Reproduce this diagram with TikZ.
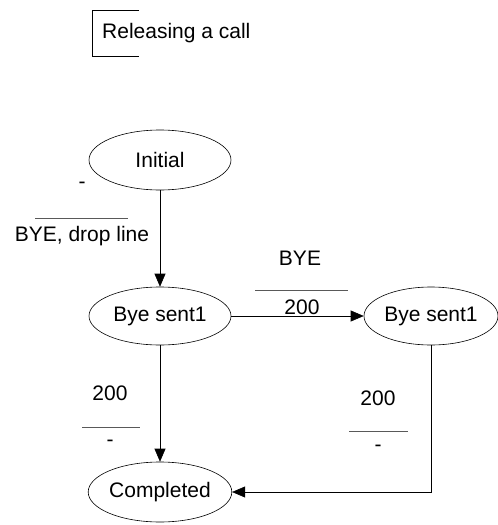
\documentclass[tikz,border=0pt]{standalone}
\usepackage{fontspec}
\setmainfont{Liberation Sans}
\usetikzlibrary{arrows.meta,shapes.geometric}
\begin{document}
\begin{tikzpicture}[x=1pt,y=-1pt,
  state/.style={draw,ellipse,line width=0.6pt,minimum width=142pt,minimum height=60pt,inner sep=0pt},
  link/.style={line width=0.6pt,-{Triangle[length=13pt,width=11pt]}},
  bar/.style={line width=0.7pt,draw=black!65},
  txt/.style={inner sep=0pt,anchor=center},
  font=\fontsize{21}{24}\selectfont]
\useasboundingbox (0,0) rectangle (498,525);

% title bracket
\coordinate (t1) at (139,10);
\coordinate (t2) at (92,10);
\coordinate (t3) at (92,56);
\coordinate (t4) at (139,56);
\draw[line width=0.6pt] (t1) -- (t2) -- (t3) -- (t4);
\node[txt,anchor=west] (title) at (102,33) {Releasing a call};

% states
\node[state] (init) at (160,160) {Initial};
\node[state,minimum height=58pt] (bye1) at (160,316) {Bye sent1};
\node[state,minimum width=134pt,minimum height=58pt] (bye2) at (431,316) {Bye sent1};
\node[state] (done) at (160,492) {Completed};

% transitions
\draw[link] (init) -- (bye1);
\draw[link] (bye1) -- (bye2);
\draw[link] (bye1) -- (done);
\coordinate (corner) at (bye2.south |- done.east);
\draw[link] (bye2.south) -- (corner) -- (done.east);

% labels: Initial -> Bye sent1
\node[txt] (l1a) at (82,185) {-};
\coordinate (b1a) at (35,218);
\coordinate (b1b) at (128,218);
\draw[bar] (b1a) -- (b1b);
\node[txt] (l1b) at (82,236) {BYE, drop line};

% labels: Bye sent1 -> Bye sent1
\node[txt] (l2a) at (300,258) {BYE};
\coordinate (b2a) at (255,290);
\coordinate (b2b) at (348,290);
\draw[bar] (b2a) -- (b2b);
\node[txt] (l2b) at (302,307) {200};

% labels: Bye sent1 -> Completed
\node[txt] (l3a) at (110,393) {200};
\coordinate (b3a) at (82,427);
\coordinate (b3b) at (140,427);
\draw[bar] (b3a) -- (b3b);
\node[txt] (l3b) at (110,443) {-};

% labels: Bye sent1 (right) -> Completed
\node[txt] (l4a) at (378,398) {200};
\coordinate (b4a) at (349,431);
\coordinate (b4b) at (408,431);
\draw[bar] (b4a) -- (b4b);
\node[txt] (l4b) at (378,448) {-};
\end{tikzpicture}
\end{document}
